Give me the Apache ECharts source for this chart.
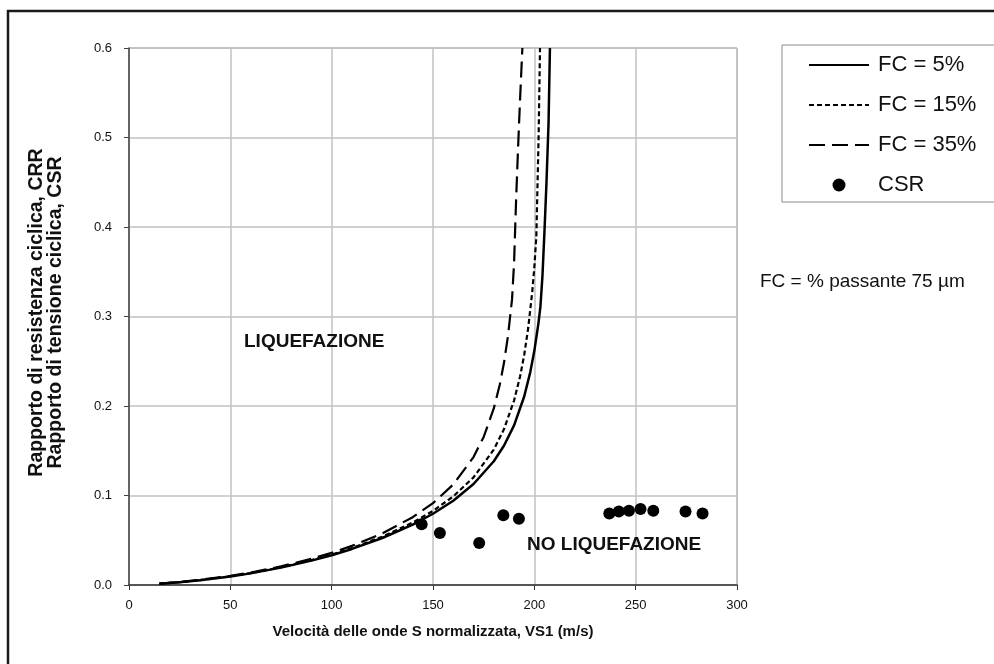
<!DOCTYPE html>
<html>
<head>
<meta charset="utf-8">
<script src="https://cdn.jsdelivr.net/npm/echarts@6/dist/echarts.min.js"></script>
<style>
  html, body { margin: 0; padding: 0; background: #fff; }
  #chart { width: 994px; height: 664px; }
</style>
</head>
<body>
<div id="chart"></div>
<script>
// Normalised shear-wave velocity VS1 (m/s) and cyclic resistance ratio CRR for each fines content
const vs1Fc5  = [15, 25, 35, 50, 60, 75, 90, 100, 110, 125, 140, 150, 160, 170, 180, 185, 190, 195, 198, 200, 202, 203, 204, 205, 206, 207, 207.7];
const crrFc5  = [0.0015, 0.0031, 0.0052, 0.0094, 0.0130, 0.0194, 0.0272, 0.0333, 0.0403, 0.0525, 0.0674, 0.0796, 0.0942, 0.1128, 0.1383, 0.1556, 0.1784, 0.2106, 0.2379, 0.2616, 0.2921, 0.311, 0.345, 0.395, 0.45, 0.515, 0.60];

const vs1Fc15 = [15, 25, 35, 50, 60, 75, 90, 100, 110, 125, 140, 150, 160, 170, 180, 185, 190, 193, 195, 197, 199, 200, 201, 201.6, 202.1, 202.8];
const crrFc15 = [0.0015, 0.0032, 0.0054, 0.0097, 0.0133, 0.0198, 0.0278, 0.0341, 0.0413, 0.0540, 0.0698, 0.0828, 0.0990, 0.1203, 0.1513, 0.1740, 0.2061, 0.2333, 0.2570, 0.2874, 0.3283, 0.355, 0.39, 0.45, 0.50, 0.60];

const vs1Fc35 = [15, 25, 35, 50, 60, 75, 90, 100, 110, 125, 140, 150, 160, 170, 175, 180, 183, 185, 187, 189, 190, 191, 192, 193, 194.1];
const crrFc35 = [0.0016, 0.0034, 0.0057, 0.0102, 0.0139, 0.0208, 0.0293, 0.0360, 0.0437, 0.0577, 0.0758, 0.0915, 0.1123, 0.1429, 0.1654, 0.1973, 0.2244, 0.2480, 0.2783, 0.3191, 0.36, 0.43, 0.49, 0.545, 0.60];

// Cyclic stress ratio of the site points
const vs1Csr = [144.4, 153.4, 172.8, 184.7, 192.4, 237.0, 241.7, 246.7, 252.4, 258.7, 274.6, 283.0];
const csr    = [0.068, 0.058, 0.047, 0.078, 0.074, 0.080, 0.082, 0.083, 0.085, 0.083, 0.082, 0.080];

const seriesNames = ['FC = 5%', 'FC = 15%', 'FC = 35%', 'CSR'];

const pairs = (xs, ys) => xs.map((x, i) => [x, ys[i]]);
const FONT = '"Liberation Sans", Arial, sans-serif';

const chart = echarts.init(document.getElementById('chart'), null, { renderer: 'canvas' });

// legend entries for the curves show only the line sample, no marker
const hiddenMarker = { opacity: 0, borderWidth: 0 };

chart.setOption({
  backgroundColor: '#ffffff',
  animation: false,
  textStyle: { fontFamily: FONT, color: '#111' },
  grid: {
    left: 129, right: 257, top: 48, bottom: 79,
    show: true, borderColor: '#8a8a8a', borderWidth: 1
  },
  xAxis: {
    type: 'value', min: 0, max: 300, interval: 50,
    name: 'Velocità delle onde S normalizzata, VS1 (m/s)',
    nameLocation: 'middle', nameGap: 39,
    nameTextStyle: { fontFamily: FONT, fontSize: 15, fontWeight: 'bold', color: '#111' },
    axisLine: { show: true, onZero: false, lineStyle: { color: '#333', width: 1.5 } },
    axisTick: { show: true, inside: false, length: 5, lineStyle: { color: '#333' } },
    axisLabel: { fontFamily: FONT, fontSize: 13, color: '#111', margin: 14 },
    splitLine: { show: true, lineStyle: { color: '#c2c2c2', width: 1.5 } }
  },
  yAxis: {
    type: 'value', min: 0, max: 0.6, interval: 0.1,
    name: 'Rapporto di resistenza ciclica, CRR\nRapporto di tensione ciclica, CSR',
    nameLocation: 'middle', nameGap: 64,
    nameTextStyle: { fontFamily: FONT, fontSize: 19.5, fontWeight: 'bold', color: '#111',
      lineHeight: 19, align: 'center', padding: [0, 0, 0, 8] },
    axisLine: { show: true, lineStyle: { color: '#444', width: 1.5 } },
    axisTick: { show: true, inside: false, length: 5, lineStyle: { color: '#444' } },
    axisLabel: { fontFamily: FONT, fontSize: 13, color: '#111', margin: 17,
      formatter: v => v.toFixed(1) },
    splitLine: { show: true, lineStyle: { color: '#c2c2c2', width: 1.5 } }
  },
  legend: {
    orient: 'vertical',
    left: 782, top: 45,
    padding: [9, 40, 6, 26],
    borderColor: '#8a8a8a', borderWidth: 1, backgroundColor: '#fff',
    itemWidth: 60, itemHeight: 13, itemGap: 18,
    data: [
      { name: seriesNames[0], itemStyle: hiddenMarker },
      { name: seriesNames[1], itemStyle: hiddenMarker },
      { name: seriesNames[2], itemStyle: hiddenMarker },
      { name: seriesNames[3] }
    ],
    textStyle: { fontFamily: FONT, fontSize: 22, color: '#111', lineHeight: 22, padding: [0, 0, 0, 4] }
  },
  series: [
    {
      name: seriesNames[0], type: 'line', data: pairs(vs1Fc5, crrFc5),
      symbol: 'none', smooth: false,
      itemStyle: { color: '#000' },
      lineStyle: { color: '#000', width: 2.5, type: 'solid' }, z: 5
    },
    {
      name: seriesNames[1], type: 'line', data: pairs(vs1Fc15, crrFc15),
      symbol: 'none', smooth: false,
      itemStyle: { color: '#000' },
      lineStyle: { color: '#000', width: 2.2, type: [5, 3] }, z: 5
    },
    {
      name: seriesNames[2], type: 'line', data: pairs(vs1Fc35, crrFc35),
      symbol: 'none', smooth: false,
      itemStyle: { color: '#000' },
      lineStyle: { color: '#000', width: 2.2, type: [16, 7] }, z: 5
    },
    {
      name: seriesNames[3], type: 'scatter', data: pairs(vs1Csr, csr),
      symbol: 'circle', symbolSize: 12,
      itemStyle: { color: '#000', opacity: 1 }, z: 6
    }
  ],
  graphic: [
    {
      type: 'rect', silent: true, z: 100,
      shape: { x: 8, y: 11, width: 1100, height: 800 },
      style: { fill: null, stroke: '#1a1a1a', lineWidth: 2.5 }
    },
    {
      type: 'text', left: 244, top: 332, z: 10,
      style: { text: 'LIQUEFAZIONE', font: 'bold 19px "Liberation Sans", Arial, sans-serif', fill: '#111' }
    },
    {
      type: 'text', left: 527, top: 535, z: 10,
      style: { text: 'NO LIQUEFAZIONE', font: 'bold 19px "Liberation Sans", Arial, sans-serif', fill: '#111' }
    },
    {
      type: 'text', left: 760, top: 272, z: 10,
      style: { text: 'FC = % passante 75 µm', font: '19px "Liberation Sans", Arial, sans-serif', fill: '#111' }
    }
  ]
});
</script>
</body>
</html>
